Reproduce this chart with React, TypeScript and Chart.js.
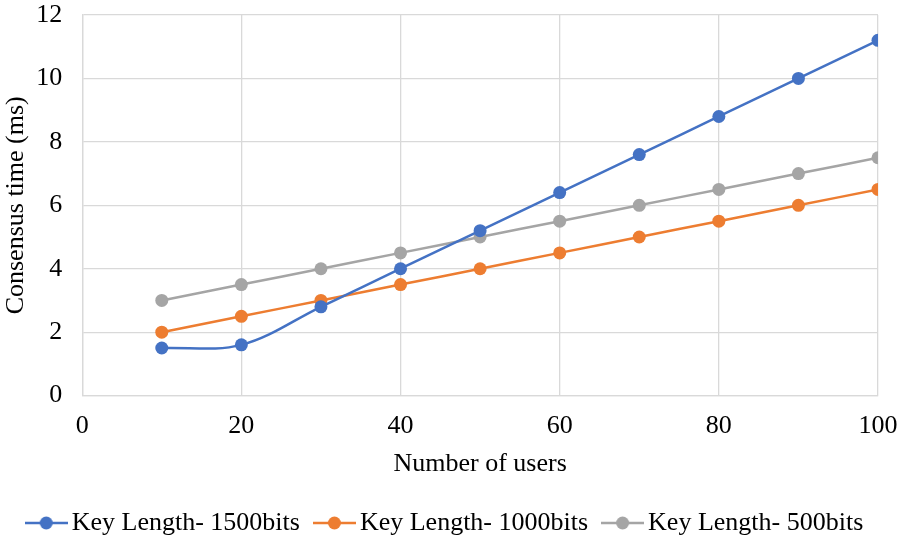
import React, { useEffect, useRef } from "react";
import { Chart, registerables } from "chart.js";

Chart.register(...registerables);

const xUsers = [10, 20, 30, 40, 50, 60, 70, 80, 90, 100];
const key1500 = [1.5, 1.6, 2.8, 4.0, 5.2, 6.4, 7.6, 8.8, 10.0, 11.2];
const key1000 = [2.0, 2.5, 3.0, 3.5, 4.0, 4.5, 5.0, 5.5, 6.0, 6.5];
const key500 = [3.0, 3.5, 4.0, 4.5, 5.0, 5.5, 6.0, 6.5, 7.0, 7.5];
const seriesNames = ["Key Length- 1500bits", "Key Length- 1000bits", "Key Length- 500bits"];
const colors = ["#4472C4", "#ED7D31", "#A5A5A5"];

const FONT = "'Liberation Serif', 'Times New Roman', serif";
const FS = 26;

function legendIcon(color: string) {
  const c = document.createElement("canvas");
  c.width = 43;
  c.height = 16;
  const ctx = c.getContext("2d")!;
  ctx.strokeStyle = color;
  ctx.lineWidth = 2.5;
  ctx.beginPath();
  ctx.moveTo(0, 8);
  ctx.lineTo(43, 8);
  ctx.stroke();
  ctx.fillStyle = color;
  ctx.beginPath();
  ctx.arc(21.5, 8, 6.5, 0, Math.PI * 2);
  ctx.fill();
  return c;
}

export default function App() {
  const ref = useRef<HTMLCanvasElement>(null);
  useEffect(() => {
    document.body.style.margin = "0";
    const all = [key1500, key1000, key500];
    const chart = new Chart(ref.current!, {
      type: "line",
      data: {
        datasets: all.map((vals, i) => ({
          label: seriesNames[i],
          data: vals.map((v, j) => ({ x: xUsers[j], y: v })),
          borderColor: colors[i],
          backgroundColor: colors[i],
          borderWidth: 2.5,
          pointRadius: 6.5,
          pointHoverRadius: 6.5,
          pointBorderWidth: 0,
          tension: 0.35,
        })),
      },
      options: {
        animation: false,
        responsive: false,
        layout: { padding: { left: -3, right: 0, top: 0, bottom: -4 } },
        plugins: {
          tooltip: { enabled: false },
          legend: {
            position: "bottom",
            labels: {
              font: { family: FONT, size: FS },
              color: "#000",
              usePointStyle: true,
              pointStyleWidth: 25,
              padding: 22,
              generateLabels: (ch: any) =>
                ch.data.datasets.map((d: any, i: number) => ({
                  text: d.label,
                  pointStyle: legendIcon(colors[i]),
                  fillStyle: colors[i],
                  strokeStyle: colors[i],
                  lineWidth: 0,
                  fontColor: "#000",
                  datasetIndex: i,
                  hidden: false,
                })),
            },
          },
        },
        scales: {
          x: {
            type: "linear",
            min: 0,
            max: 100,
            ticks: { stepSize: 20, font: { family: FONT, size: FS }, color: "#000", padding: 15 },
            grid: { color: "#d9d9d9", lineWidth: 1.3, drawTicks: false },
            border: { color: "#d9d9d9", width: 1.3 },
            title: { display: true, text: "Number of users", font: { family: FONT, size: FS }, color: "#000", padding: { top: -8, bottom: 8 } },
            afterFit: (scale: any) => {
              scale.paddingRight = 22;
            },
          },
          y: {
            min: 0,
            max: 12,
            ticks: { stepSize: 2, font: { family: FONT, size: FS }, color: "#000", padding: 20 },
            grid: { color: "#d9d9d9", lineWidth: 1.3, drawTicks: false },
            border: { color: "#d9d9d9", width: 1.3 },
            title: { display: true, text: "Consensus time (ms)", font: { family: FONT, size: FS }, color: "#000", padding: { bottom: 2 } },
            afterFit: (scale: any) => {
              scale.width -= 18;
              scale.paddingTop = 15;
            },
          },
        },
      },
    } as any);
    return () => chart.destroy();
  }, []);
  return (
    <div style={{ width: 900, height: 542 }}>
      <canvas ref={ref} width={900} height={542} style={{ width: 900, height: 542, display: "block" }} />
    </div>
  );
}
